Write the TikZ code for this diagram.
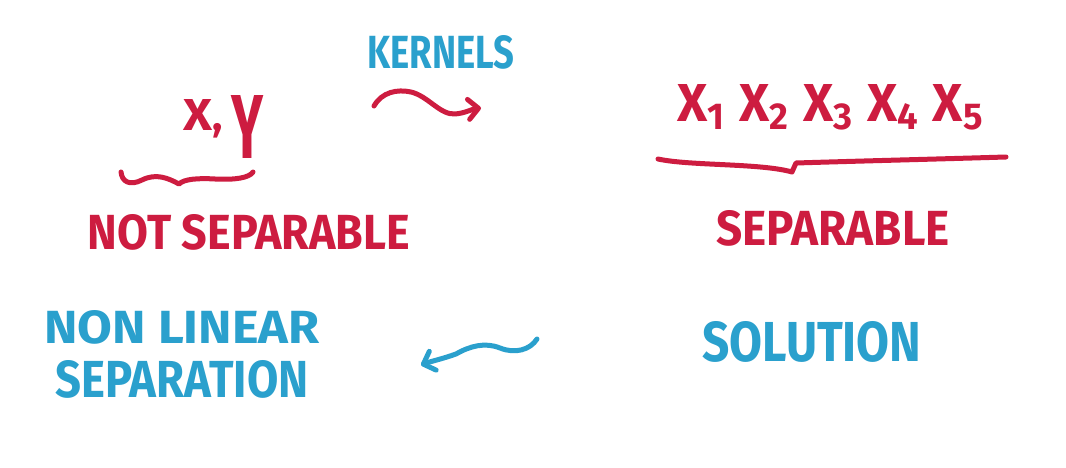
\documentclass[tikz,border=0pt]{standalone}
\usepackage{fontspec}
\setmainfont{Fira Sans}
\usetikzlibrary{arrows.meta}
\definecolor{mred}{RGB}{205,28,64}
\definecolor{mblue}{RGB}{42,160,205}
\newcommand{\fitto}[3]{\resizebox{#1pt}{#2pt}{#3}}
\begin{document}
\begin{tikzpicture}[x=1pt,y=-1pt,
  lbl/.style={inner sep=0pt,outer sep=0pt,font=\bfseries},
  redlbl/.style={lbl,text=mred},
  bluelbl/.style={lbl,text=mblue},
  redpen/.style={draw=mred,line width=5pt,line cap=round,line join=round},
  bluepen/.style={draw=mblue,line width=5pt,line cap=round,line join=round},
  barb/.style={-{Straight Barb[length=10pt,width=20pt,round]}}]
\fill[white] (0,0) rectangle (1066,468);
\useasboundingbox (0,0) rectangle (1066,468);

% labels
\node[bluelbl] (kernels) at (441,52) {\fitto{147}{33}{KERNELS}};
\node[redlbl,anchor=base west] (xy) at (183,131)
  {\fontsize{43}{43}\selectfont\fitto{29}{31}{X},\kern9pt\raisebox{-28pt}{\fitto{32}{63}{Y}}};
\node[redlbl] (notsep) at (249,232) {\fitto{322}{35}{NOT SEPARABLE}};
\node[redlbl,anchor=north west] (xs) at (677,84)
  {\fitto{308}{37}{X\textsubscript{1} X\textsubscript{2} X\textsubscript{3} X\textsubscript{4} X\textsubscript{5}}};
\node[redlbl] (sep) at (833,228) {\fitto{233}{35}{SEPARABLE}};
\node[bluelbl,anchor=north,align=center,font=\bfseries\fontsize{10}{54}\selectfont] (nonlin) at (182,310)
  {\fitto{275}{33}{NON LINEAR}\\\fitto{253}{37}{SEPARATION}};
\node[bluelbl] (sol) at (812,342) {\fitto{219}{40}{SOLUTION}};

% kernel arrow
\coordinate (k1) at (374,106);
\coordinate (k2) at (481,108);
\draw[redpen,barb] (k1) .. controls (382,92) and (397,89) .. (411,92)
  .. controls (428,96) and (440,115) .. (455,114)
  .. controls (466,113) and (472,109) .. (k2);

% solution arrow
\coordinate (b1) at (537,339);
\coordinate (b2) at (421,365);
\draw[bluepen,barb] (b1) .. controls (530,350) and (515,354) .. (500,348)
  .. controls (485,342) and (470,346) .. (456,354)
  .. controls (442,359) and (432,361) .. (b2);

% braces
\draw[redpen] (121,172) .. controls (122,182) and (130,186) .. (142,180)
  .. controls (156,173) and (168,178) .. (179,184)
  .. controls (184,179) and (198,178) .. (215,179)
  .. controls (235,180) and (249,178) .. (253,172);
\draw[redpen] (658,159) .. controls (690,166) and (760,163) .. (792,172)
  -- (796,163) .. controls (860,161) and (940,159) .. (1006,157);
\end{tikzpicture}
\end{document}
